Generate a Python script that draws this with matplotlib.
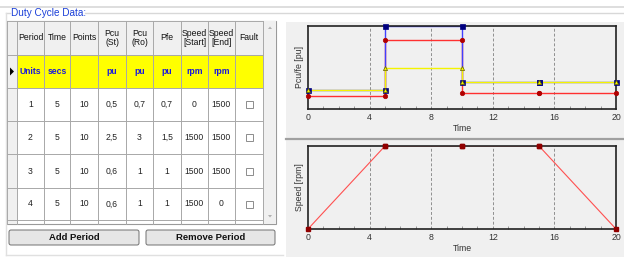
import numpy as np
import matplotlib.pyplot as plt
from matplotlib.patches import Rectangle, FancyBboxPatch, Polygon
from matplotlib.ticker import MultipleLocator

# table contents
headers = ['Period', 'Time', 'Points', 'Pcu\n(St)', 'Pcu\n(Ro)', 'Pfe',
           'Speed\n[Start]', 'Speed\n[End]', 'Fault']
units = ['Units', 'secs', '', 'pu', 'pu', 'pu', 'rpm', 'rpm', '']

periods = [1, 2, 3, 4]
times = [5, 5, 5, 5]
points = [10, 10, 10, 10]
pcu_st = [0.5, 2.5, 0.6, 0.6]
pcu_ro = [0.7, 3.0, 1.0, 1.0]
pfe = [0.7, 1.5, 1.0, 1.0]
speed_start = [0, 1500, 1500, 1500]
speed_end = [1500, 1500, 1500, 0]

time_ticks = [0, 4, 8, 12, 16, 20]

W, H = 624, 257
plt.rcParams['font.family'] = ['Liberation Sans Narrow', 'Liberation Sans', 'DejaVu Sans']

fig = plt.figure(figsize=(W / 100, H / 100), dpi=100)
fig.patch.set_facecolor('white')

ui = fig.add_axes([0, 0, 1, 1])
ui.set_xlim(0, W)
ui.set_ylim(H, 0)
ui.axis('off')


def fmt(v):
    s = ('%g' % v)
    return s.replace('.', ',')


# top separator lines and group box
ui.plot([0, W], [7, 7], color='#d8d8d8', lw=1.2)
ui.plot([85, W], [13, 13], color='#d8d8d8', lw=1.0)
ui.plot([6, 10], [13, 13], color='#d8d8d8', lw=1.0)
ui.plot([6, 6], [13, 255], color='#e0e0e0', lw=1.0)
ui.plot([6, 283], [255, 255], color='#e0e0e0', lw=1.0)
ui.text(11, 13, 'Duty Cycle Data:', color='#1a3fd8', fontsize=7.2,
        va='center', ha='left', family=['Liberation Sans', 'DejaVu Sans'])

# table
col_x = [7, 17, 44, 70, 98, 126, 153, 181, 208, 235, 263]
row_y = [21, 55, 88, 121, 154, 188, 220]
tab_bottom = 224
grid_c = '#a8a8a8'
fs = 6.2

ui.add_patch(Rectangle((7, 21), 269, tab_bottom - 21, facecolor='white',
                       edgecolor='#9a9a9a', lw=0.8))
# header row and row header column
ui.add_patch(Rectangle((col_x[0], row_y[0]), col_x[-1] - col_x[0], row_y[1] - row_y[0],
                       facecolor='#f0f0f0', edgecolor='none'))
ui.add_patch(Rectangle((col_x[0], row_y[1]), col_x[1] - col_x[0], tab_bottom - row_y[1],
                       facecolor='#f0f0f0', edgecolor='none'))
ui.add_patch(Rectangle((col_x[1], row_y[1]), col_x[-1] - col_x[1], row_y[2] - row_y[1],
                       facecolor='#ffff00', edgecolor='none'))
# scrollbar
ui.add_patch(Rectangle((col_x[-1], row_y[0]), 13, tab_bottom - row_y[0],
                       facecolor='#f0f0f0', edgecolor='none'))
ui.add_patch(Polygon([[268, 29], [272, 29], [270, 26.5]], closed=True,
                     facecolor='#b0b0b0', edgecolor='none'))
ui.add_patch(Polygon([[268, 215], [272, 215], [270, 217.5]], closed=True,
                     facecolor='#b0b0b0', edgecolor='none'))

for x in col_x:
    ui.plot([x, x], [row_y[0], tab_bottom], color=grid_c, lw=0.7)
for y in row_y:
    ui.plot([col_x[0], col_x[-1]], [y, y], color=grid_c, lw=0.7)

cx = [(col_x[i] + col_x[i + 1]) / 2 for i in range(1, len(col_x) - 1)]
hy = (row_y[0] + row_y[1]) / 2
for x, h in zip(cx, headers):
    ui.text(x, hy, h, ha='center', va='center', fontsize=fs, color='#111111',
            linespacing=0.95)
uy = (row_y[1] + row_y[2]) / 2
for x, u in zip(cx, units):
    ui.text(x, uy, u, ha='center', va='center', fontsize=fs, color='#1a1adc',
            fontweight='bold')
ui.add_patch(Polygon([[10, uy - 4], [10, uy + 4], [14, uy]], closed=True,
                     facecolor='black', edgecolor='none'))

for i in range(len(periods)):
    y = (row_y[i + 2] + row_y[i + 3]) / 2
    vals = [periods[i], times[i], points[i], fmt(pcu_st[i]), fmt(pcu_ro[i]),
            fmt(pfe[i]), speed_start[i], speed_end[i]]
    for x, v in zip(cx[:-1], vals):
        ui.text(x, y, str(v), ha='center', va='center', fontsize=fs, color='#222222')
    ui.add_patch(Rectangle((cx[-1] - 3.5, y - 3.5), 7, 7, facecolor='white',
                           edgecolor='#8c8c8c', lw=0.7))

# buttons
for x0, x1, label in [(9, 139, 'Add Period'), (146, 275, 'Remove Period')]:
    ui.add_patch(FancyBboxPatch((x0, 230), x1 - x0, 15,
                                boxstyle='round,pad=0,rounding_size=2',
                                facecolor='#e6e6e6', edgecolor='#707070', lw=0.7))
    ui.text((x0 + x1) / 2, 237.8, label, ha='center', va='center', fontsize=6.8,
            fontweight='bold', color='#111111', family=['Liberation Sans', 'DejaVu Sans'])

# chart panel
ui.add_patch(Rectangle((286, 22), W - 286, H - 22, facecolor='#f0f0f0', edgecolor='none'))
ui.plot([286, W], [138.5, 138.5], color='#a0a0a0', lw=1.6)

# step series built from the table
t_edges = np.concatenate([[0], np.cumsum(times)])
t_pts = np.repeat(t_edges, 2)[1:-1]
st_pts = np.repeat(pcu_st, 2)
ro_pts = np.repeat(pcu_ro, 2)
fe_pts = np.repeat(pfe, 2)
sp_pts = np.ravel(np.column_stack([speed_start, speed_end]))


def chart(top, bottom):
    ax = fig.add_axes([308 / W, 1 - bottom / H, (616 - 308) / W, (bottom - top) / H])
    ax.set_facecolor('#f0f0f0')
    ax.set_xlim(0, 20)
    ax.set_xticks(time_ticks)
    ax.xaxis.set_minor_locator(MultipleLocator(1))
    ax.tick_params(axis='x', which='both', direction='in', labelsize=6.3,
                   colors='#333333', pad=3, top=False)
    ax.tick_params(axis='x', which='major', length=0)
    ax.tick_params(axis='x', which='minor', length=2.5, width=0.6, color='#888888')
    ax.set_yticks([])
    for x in time_ticks[1:-1]:
        ax.axvline(x, color='#909090', ls=(0, (3, 2)), lw=0.7, zorder=1)
    for s in ax.spines.values():
        s.set_linewidth(1.2)
        s.set_color('#222222')
        s.set_zorder(3.5)
    ax.set_xlabel('Time', fontsize=6.3, color='#333333', labelpad=1)
    return ax


ax1 = chart(26, 109)
ax1.set_ylim(0.03, 3.0)
series = [(st_pts, '#ff3030', 'o', 3.2, '#b00000', '#b00000'),
          (ro_pts, '#4040ff', 's', 3.6, '#000080', '#000080'),
          (fe_pts, '#f4f400', '^', 3.0, '#f4f400', '#606000')]
for k, (vals, lc, mk, ms, mfc, mec) in enumerate(series):
    ax1.plot(t_pts, vals, color=lc, lw=1.0, zorder=2 + k * 0.3)
    ax1.plot(t_pts, vals, ls='none', marker=mk, ms=ms, mfc=mfc, mec=mec,
             mew=0.5, zorder=4 + k * 0.3, clip_on=False)
ax1.set_ylabel('Pcu/fe [pu]', fontsize=6.3, color='#333333', labelpad=3)

ax2 = chart(146, 229)
ax2.set_ylim(0, 1500)
ax2.plot(t_pts, sp_pts, color='#ff5050', lw=0.8, zorder=2)
ax2.plot(t_pts, sp_pts, ls='none', marker='s', ms=2.2,
         mfc='#900000', mec='#900000', zorder=4, clip_on=False)
ax2.set_ylabel('Speed [rpm]', fontsize=6.3, color='#333333', labelpad=3)

fig.savefig('out.png', dpi=100, facecolor='white')
